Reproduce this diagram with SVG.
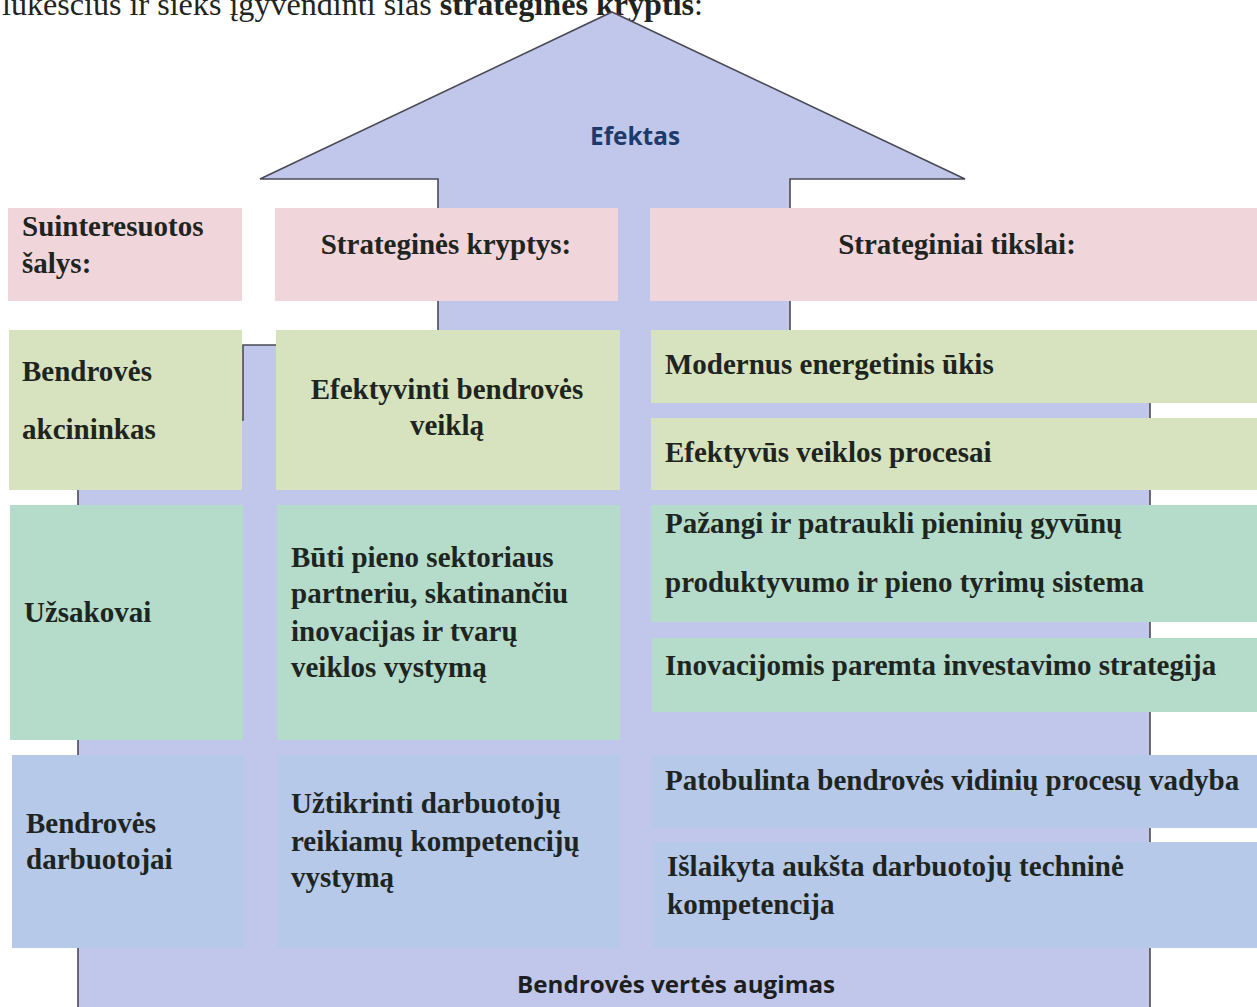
<svg xmlns="http://www.w3.org/2000/svg" width="1257" height="1007" viewBox="0 0 1257 1007">
<style>
.t{font-family:"Liberation Serif","Times New Roman",serif;font-weight:bold;font-size:29px;fill:#1e2521}
.s{font-family:"Open Sans","Noto Sans","Liberation Sans",sans-serif;font-weight:bold}
.pink{fill:#f0d6da}
.lg{fill:#d7e3be}
.tg{fill:#b5dccb}
.bl{fill:#b6c9e9}
</style>
<rect width="1257" height="1007" fill="#ffffff"/>
<text x="2" y="15" font-family="Liberation Serif, serif" font-size="31" fill="#1e2521" textLength="701" lengthAdjust="spacingAndGlyphs">lūkesčius ir sieks įgyvendinti šias <tspan font-weight="bold">strategines kryptis</tspan>:</text>
<g id="arrow">
<polygon points="612,12 965,179 790,179 790,345 1150,345 1150,1010 78,1010 78,420 243,420 243,345 438,345 438,179 260,179" fill="#c0c7eb" stroke="#4a4a55" stroke-width="1.6" stroke-linejoin="miter"/>
<text class="s" x="590" y="145" font-size="25" fill="#1f3a6a" textLength="90" lengthAdjust="spacingAndGlyphs">Efektas</text>
<text class="s" x="517" y="993" font-size="24" fill="#1e1e1e" textLength="318" lengthAdjust="spacingAndGlyphs">Bendrovės vertės augimas</text>
</g>
<g id="connectors"></g>
<g id="h1"><rect class="pink" x="8" y="208" width="234" height="93"/><text class="t" x="22" y="236">Suinteresuotos</text><text class="t" x="22" y="273">šalys:</text></g>
<g id="h2"><rect class="pink" x="275" y="208" width="343" height="93"/><text class="t" x="446" y="254" text-anchor="middle">Strateginės kryptys:</text></g>
<g id="h3"><rect class="pink" x="650" y="208" width="607" height="93"/><text class="t" x="957" y="254" text-anchor="middle">Strateginiai tikslai:</text></g>
<g id="s1"><rect class="lg" x="9" y="330" width="233" height="160"/><text class="t" x="22" y="381">Bendrovės</text><text class="t" x="22" y="439">akcininkas</text></g>
<g id="k1"><rect class="lg" x="276" y="330" width="344" height="160"/><text class="t" x="447" y="399" text-anchor="middle">Efektyvinti bendrovės</text><text class="t" x="447" y="435" text-anchor="middle">veiklą</text></g>
<g id="g1"><rect class="lg" x="651" y="330" width="606" height="73"/><text class="t" x="665" y="374">Modernus energetinis ūkis</text></g>
<g id="g2"><rect class="lg" x="651" y="418" width="606" height="72"/><text class="t" x="665" y="462">Efektyvūs veiklos procesai</text></g>
<g id="s2"><rect class="tg" x="10" y="505" width="233" height="235"/><text class="t" x="24" y="622">Užsakovai</text></g>
<g id="k2"><rect class="tg" x="277" y="505" width="343" height="235"/><text class="t" x="291" y="567">Būti pieno sektoriaus</text><text class="t" x="291" y="603">partneriu, skatinančiu</text><text class="t" x="291" y="641">inovacijas ir tvarų</text><text class="t" x="291" y="677">veiklos vystymą</text></g>
<g id="g3"><rect class="tg" x="651" y="505" width="606" height="117"/><text class="t" x="665" y="533">Pažangi ir patraukli pieninių gyvūnų</text><text class="t" x="665" y="592">produktyvumo ir pieno tyrimų sistema</text></g>
<g id="g4"><rect class="tg" x="652" y="638" width="605" height="74"/><text class="t" x="665" y="675">Inovacijomis paremta investavimo strategija</text></g>
<g id="s3"><rect class="bl" x="12" y="755" width="232" height="193"/><text class="t" x="26" y="833">Bendrovės</text><text class="t" x="26" y="869">darbuotojai</text></g>
<g id="k3"><rect class="bl" x="277" y="755" width="343" height="193"/><text class="t" x="291" y="813">Užtikrinti darbuotojų</text><text class="t" x="291" y="851">reikiamų kompetencijų</text><text class="t" x="291" y="887">vystymą</text></g>
<g id="g5"><rect class="bl" x="652" y="755" width="605" height="73"/><text class="t" x="665" y="790">Patobulinta bendrovės vidinių procesų vadyba</text></g>
<g id="g6"><rect class="bl" x="653" y="842" width="604" height="106"/><text class="t" x="667" y="876">Išlaikyta aukšta darbuotojų techninė</text><text class="t" x="667" y="914">kompetencija</text></g>
</svg>
